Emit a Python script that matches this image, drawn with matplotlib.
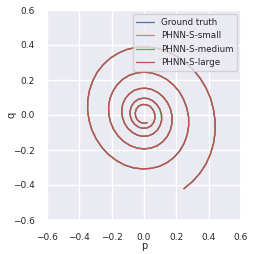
import matplotlib
matplotlib.use("Agg")
import matplotlib.pyplot as plt
import seaborn as sns

sns.set_theme(style="darkgrid")

# Phase-space trajectory (all four models overlap)
p_vals = [
    0.247, 0.299, 0.344, 0.382, 0.410, 0.430, 0.440, 0.440, 0.430, 0.412,
    0.384, 0.348, 0.305, 0.255, 0.201, 0.142, 0.081, 0.019, -0.042, -0.101,
    -0.156, -0.207, -0.251, -0.289, -0.317, -0.337, -0.348, -0.349, -0.340, -0.322,
    -0.295, -0.260, -0.218, -0.171, -0.120, -0.066, -0.011, 0.044, 0.096, 0.143,
    0.186, 0.221, 0.248, 0.267, 0.276, 0.276, 0.265, 0.246, 0.219, 0.184,
    0.143, 0.097, 0.049, 0.000, -0.048, -0.093, -0.133, -0.167, -0.193, -0.211,
    -0.219, -0.218, -0.207, -0.187, -0.159, -0.125, -0.085, -0.043, 0.001, 0.043,
    0.083, 0.117, 0.144, 0.163, 0.173, 0.173, 0.164, 0.145, 0.119, 0.087,
    0.051, 0.012, -0.026, -0.062, -0.092, -0.116, -0.132, -0.138, -0.134, -0.122,
    -0.101, -0.073, -0.041, -0.007, 0.027, 0.058, 0.083, 0.100, 0.109, 0.108,
    0.097, 0.078, 0.053, 0.024, -0.007, -0.036, -0.060, -0.077, -0.086, -0.085,
    -0.075, -0.057, -0.032, -0.006, 0.021, 0.044, 0.060, 0.068, 0.066, 0.056,
    0.038, 0.015, -0.009, -0.031, -0.047, -0.054, -0.052, -0.041, -0.023, -0.002, 0.019,
]
q_vals = [
    -0.421, -0.381, -0.335, -0.282, -0.225, -0.163, -0.099, -0.034, 0.031, 0.094,
    0.154, 0.209, 0.259, 0.302, 0.337, 0.364, 0.381, 0.389, 0.387, 0.376,
    0.355, 0.326, 0.289, 0.245, 0.196, 0.142, 0.085, 0.027, -0.030, -0.086,
    -0.138, -0.186, -0.227, -0.260, -0.286, -0.302, -0.308, -0.305, -0.293, -0.272,
    -0.242, -0.205, -0.162, -0.114, -0.064, -0.012, 0.039, 0.087, 0.132, 0.170,
    0.202, 0.225, 0.240, 0.245, 0.240, 0.226, 0.203, 0.172, 0.135, 0.093,
    0.049, 0.003, -0.042, -0.084, -0.121, -0.152, -0.175, -0.189, -0.194, -0.189,
    -0.175, -0.152, -0.122, -0.086, -0.047, -0.006, 0.034, 0.071, 0.103, 0.128,
    0.145, 0.153, 0.151, 0.140, 0.120, 0.094, 0.061, 0.026, -0.011, -0.045,
    -0.075, -0.099, -0.115, -0.122, -0.119, -0.107, -0.086, -0.059, -0.029, 0.004,
    0.035, 0.061, 0.082, 0.094, 0.096, 0.089, 0.074, 0.051, 0.024, -0.004,
    -0.032, -0.054, -0.070, -0.076, -0.073, -0.062, -0.042, -0.018, 0.007, 0.030,
    0.049, 0.059, 0.060, 0.052, 0.035, 0.014, -0.008, -0.028, -0.042, -0.048, -0.044,
]

series_labels = ["Ground truth", "PHNN-S-small", "PHNN-S-medium", "PHNN-S-large"]
series_colors = ["#4C72B0", "#DD8452", "#55A868", "#C44E52"]
tick_values = [-0.6, -0.4, -0.2, 0.0, 0.2, 0.4, 0.6]

fig = plt.figure(figsize=(2.54, 2.54), dpi=100)
ax = fig.add_axes([47 / 254, 34 / 254, 194 / 254, 210 / 254])
for lab, c in zip(series_labels, series_colors):
    ax.plot(p_vals, q_vals, color=c, lw=0.9, label=lab)

ax.set_xlim(-0.6, 0.6)
ax.set_ylim(-0.6, 0.6)
ax.set_xticks(tick_values)
ax.set_yticks(tick_values)
ax.tick_params(labelsize=6.5, pad=3)
ax.set_xlabel("p", fontsize=7.1, labelpad=-0.5)
ax.set_ylabel("q", fontsize=7.1, labelpad=-2.5)
ax.legend(loc="upper right", fontsize=6.3)

fig.savefig("out.png", dpi=100)
